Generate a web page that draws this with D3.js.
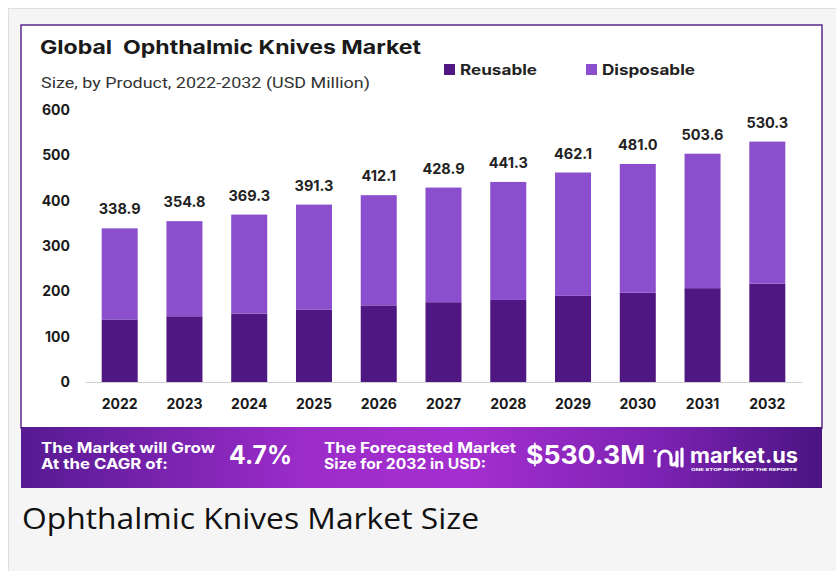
<!DOCTYPE html>
<html><head><meta charset="utf-8">
<script src="https://cdn.jsdelivr.net/npm/d3@7"></script>
<style>
html,body{margin:0;padding:0;background:#fff;}
svg{display:block;}
</style></head>
<body>
<svg id="c" width="836" height="571"></svg>
<script>
const years = ["2022","2023","2024","2025","2026","2027","2028","2029","2030","2031","2032"];
const reusable = [138, 145, 151, 160, 169, 176, 181, 190, 197, 207, 217];
const disposable = [200.9, 209.8, 218.3, 231.3, 243.1, 252.9, 260.3, 272.1, 284.0, 296.6, 313.3];
const totalLabels = ["338.9","354.8","369.3","391.3","412.1","428.9","441.3","462.1","481.0","503.6","530.3"];
const yTicks = [0, 100, 200, 300, 400, 500, 600];
const seriesNames = ["Reusable", "Disposable"];
const colors = ["#4e1782", "#8b4fcd"];

const svg = d3.select("#c");
const BOLD = "Inter, 'Noto Sans', sans-serif";

// outer page panel
svg.append("rect").attr("x", 8.5).attr("y", 8.5).attr("width", 840).attr("height", 580)
  .attr("fill", "#f5f5f5").attr("stroke", "#dedede");

// card
svg.append("rect").attr("x", 21).attr("y", 25).attr("width", 801).attr("height", 403)
  .attr("fill", "#fff").attr("stroke", "#5b2a8c").attr("stroke-width", 1.5);

// titles
svg.append("text").attr("x", 40).attr("y", 54).attr("font-family", BOLD).attr("font-weight", 700)
  .attr("font-size", 19).attr("fill", "#1a1a1a").attr("textLength", 381).attr("lengthAdjust", "spacingAndGlyphs")
  .attr("xml:space", "preserve").style("white-space", "pre")
  .text("Global  Ophthalmic Knives Market");
svg.append("text").attr("x", 41).attr("y", 88).attr("font-family", "Roboto, sans-serif")
  .attr("font-size", 15.5).attr("fill", "#333").attr("textLength", 329).attr("lengthAdjust", "spacingAndGlyphs")
  .text("Size, by Product, 2022-2032 (USD Million)");

// legend
const legX = [444, 586], legW = [77, 93];
seriesNames.forEach((n, i) => {
  svg.append("rect").attr("x", legX[i]).attr("y", 64).attr("width", 11).attr("height", 11).attr("fill", colors[i]);
  svg.append("text").attr("x", legX[i] + 16).attr("y", 74.5).attr("font-family", BOLD).attr("font-weight", 700)
    .attr("font-size", 14.5).attr("fill", "#222").attr("textLength", legW[i]).attr("lengthAdjust", "spacingAndGlyphs").text(n);
});

// scales
const y = d3.scaleLinear().domain([0, 600]).range([382, 110]);
const x = d3.scaleBand().domain(years).range([85.5, 801.5]).paddingInner(0.444).paddingOuter(0.25);

// stacked bars
const rows = years.map((yr, i) => ({year: yr, Reusable: reusable[i], Disposable: disposable[i], label: totalLabels[i]}));
const stack = d3.stack().keys(seriesNames)(rows);
svg.append("g").selectAll("g").data(stack).join("g").attr("fill", (d, i) => colors[i])
  .selectAll("rect").data(d => d).join("rect")
  .attr("x", d => x(d.data.year)).attr("width", x.bandwidth())
  .attr("y", d => y(d[1])).attr("height", d => y(d[0]) - y(d[1]));

// x axis
const xa = svg.append("g").attr("transform", "translate(0,382)")
  .call(d3.axisBottom(x).tickSize(0).tickPadding(17));
xa.select(".domain").attr("stroke", "#cfcfcf").attr("stroke-width", 1);
xa.selectAll("text").attr("font-family", BOLD).attr("font-weight", 700).attr("font-size", 14).attr("fill", "#1a1a1a");

// y axis
const ya = svg.append("g").attr("transform", "translate(70,0)")
  .call(d3.axisLeft(y).tickValues(yTicks).tickSize(0).tickPadding(0));
ya.select(".domain").remove();
ya.selectAll("text").attr("font-family", BOLD).attr("font-weight", 700).attr("font-size", 14).attr("fill", "#1a1a1a");

// total labels
svg.append("g").selectAll("text").data(rows).join("text")
  .attr("x", d => x(d.year) + x.bandwidth() / 2)
  .attr("y", d => y(d.Reusable + d.Disposable) - 14)
  .attr("text-anchor", "middle").attr("font-family", BOLD).attr("font-weight", 700)
  .attr("font-size", 14.5).attr("fill", "#222").text(d => d.label);

// banner
const defs = svg.append("defs");
const grad = defs.append("linearGradient").attr("id", "bg").attr("x1", "0").attr("x2", "1").attr("y1", "0").attr("y2", "0");
[["0", "#561a92"], ["0.35", "#9b2cc9"], ["0.55", "#a52fd0"], ["0.8", "#7c22b2"], ["1", "#4a1482"]]
  .forEach(s => grad.append("stop").attr("offset", s[0]).attr("stop-color", s[1]));
svg.append("rect").attr("x", 21).attr("y", 427).attr("width", 801).attr("height", 61).attr("fill", "url(#bg)");

const bt = (t, xx, yy, fs, w) => svg.append("text").attr("x", xx).attr("y", yy).attr("font-family", BOLD)
  .attr("font-weight", 700).attr("font-size", fs).attr("fill", "#fff")
  .attr("textLength", w).attr("lengthAdjust", "spacingAndGlyphs").text(t);
bt("The Market will Grow", 41, 453, 14.5, 174);
bt("At the CAGR of:", 41, 469, 14.5, 127);
bt("4.7%", 229, 464, 25, 63);
bt("The Forecasted Market", 324, 453, 14.5, 192);
bt("Size for 2032 in USD:", 324, 469, 14.5, 162);
bt("$530.3M", 526, 464, 25, 119);

// logo
const lg = svg.append("g").attr("fill", "none").attr("stroke", "#fff").attr("stroke-linecap", "round");
lg.append("path").attr("d", "M659,466 L659,457 A6,6 0 0 1 671,457 L671,463 A2,2 0 0 0 675,463").attr("stroke-width", 3.2);
lg.append("circle").attr("cx", 655).attr("cy", 451).attr("r", 1.6).attr("fill", "#fff").attr("stroke", "none");
lg.append("line").attr("x1", 677).attr("x2", 677).attr("y1", 452).attr("y2", 466).attr("stroke-width", 3.2);
lg.append("line").attr("x1", 682).attr("x2", 682).attr("y1", 449).attr("y2", 466).attr("stroke-width", 3.2);
bt("market.us", 690, 463, 21, 108);
svg.append("text").attr("x", 691).attr("y", 470.5).attr("font-family", BOLD).attr("font-weight", 700)
  .attr("font-size", 4).attr("fill", "#fff").attr("textLength", 106).attr("lengthAdjust", "spacingAndGlyphs")
  .text("ONE STOP SHOP FOR THE REPORTS");

// caption
svg.append("text").attr("x", 22).attr("y", 529).attr("font-family", "'Open Sans', sans-serif")
  .attr("font-size", 30).attr("fill", "#111").attr("textLength", 457).attr("lengthAdjust", "spacingAndGlyphs")
  .text("Ophthalmic Knives Market Size");
</script>
</body></html>
